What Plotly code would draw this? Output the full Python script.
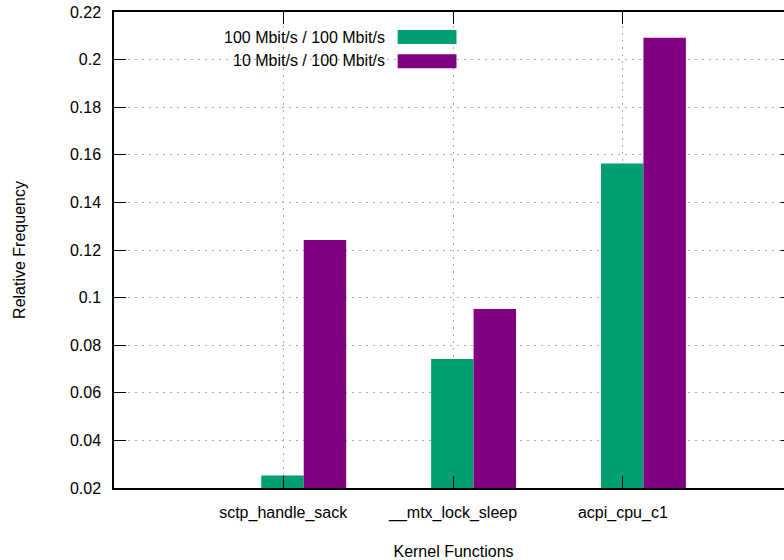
import plotly.graph_objects as go

categories = ["sctp_handle_sack", "__mtx_lock_sleep", "acpi_cpu_c1"]
series_names = ["100 Mbit/s / 100 Mbit/s", "10 Mbit/s / 100 Mbit/s"]
vals_100 = [0.0252, 0.0742, 0.1563]
vals_10 = [0.1242, 0.0952, 0.2092]
colors = ["#009e73", "#800080"]

FONT = "Liberation Sans, Arial, Helvetica, sans-serif"
# plot frame in screen pixels; the right border lies just past the window edge
FRAME_L, FRAME_R, FRAME_T, FRAME_B = 114, 795, 12, 488
W, H = FRAME_R + 1, 560
L, R, T, B = FRAME_L, 1, FRAME_T, H - FRAME_B
pw = W - L - R
ph = H - T - B

idx = list(range(len(categories)))
bw = 0.25
tick_shift = -0.121
unit_px = 170.35
center0 = 304.3
x_range = [(FRAME_L - center0) / unit_px, (FRAME_R - center0) / unit_px]

fig = go.Figure()
for name, vals, col, off in [(series_names[0], vals_100, colors[0], -bw),
                             (series_names[1], vals_10, colors[1], 0.0)]:
    fig.add_trace(go.Bar(x=idx, y=vals, name=name, width=bw, offset=off,
                         marker=dict(color=col, line=dict(width=0)),
                         showlegend=False, hoverinfo="skip"))

# convert screen-pixel positions to paper coords
def px_x(p):
    return (p - FRAME_L) / pw

def px_y(p):
    return (FRAME_B - p) / ph

shapes = [
    dict(type="rect", xref="paper", yref="paper", x0=0, x1=px_x(463),
         y0=px_y(72), y1=1, fillcolor="white", line=dict(width=0), layer="between"),
]
annotations = []
legend_rows = [(37, 30, 44), (61, 54.3, 68.3)]
for (cy, y0, y1), name, col in zip(legend_rows, series_names, colors):
    shapes.append(dict(type="rect", xref="paper", yref="paper",
                       x0=px_x(398.5), x1=px_x(457.5), y0=px_y(y1), y1=px_y(y0),
                       fillcolor=col, line=dict(width=0), layer="above"))
    annotations.append(dict(xref="paper", yref="paper", x=px_x(388), y=px_y(cy),
                            text=name, showarrow=False, xanchor="right",
                            yanchor="middle", font=dict(size=16, color="black", family=FONT)))

fig.update_layout(
    width=W, height=H,
    margin=dict(l=L, r=R, t=T, b=B),
    paper_bgcolor="white", plot_bgcolor="white",
    font=dict(family=FONT, size=16, color="black"),
    barmode="overlay",
    shapes=shapes, annotations=annotations,
    xaxis=dict(
        range=x_range,
        tickmode="array",
        tickvals=[i + tick_shift for i in idx],
        ticktext=categories,
        ticks="inside", ticklen=12, tickcolor="black", tickwidth=1,
        showline=True, linecolor="black", linewidth=1.5, mirror="ticks",
        showgrid=True, gridcolor="#a8a8a8", griddash="2px,5px", gridwidth=1,
        zeroline=False,
        ticklabelstandoff=9,
        title=dict(text="Kernel Functions", standoff=26, font=dict(size=16)),
    ),
    yaxis=dict(
        range=[0.02, 0.22],
        tickmode="array",
        tickvals=[0.02, 0.04, 0.06, 0.08, 0.10, 0.12, 0.14, 0.16, 0.18, 0.20, 0.22],
        ticktext=["0.02", "0.04", "0.06", "0.08", "0.1", "0.12", "0.14", "0.16", "0.18", "0.2", "0.22"],
        ticks="inside", ticklen=12, tickcolor="black", tickwidth=1,
        showline=True, linecolor="black", linewidth=1.5, mirror="ticks",
        showgrid=True, gridcolor="#a8a8a8", griddash="2px,5px", gridwidth=1,
        zeroline=False,
        ticklabelstandoff=8,
        title=dict(text="Relative Frequency", standoff=40, font=dict(size=16)),
    ),
)

fig.write_html(
    "out.html",
    config={"displayModeBar": False},
    post_script="document.body.style.margin='0';document.body.style.overflow='hidden';",
)
